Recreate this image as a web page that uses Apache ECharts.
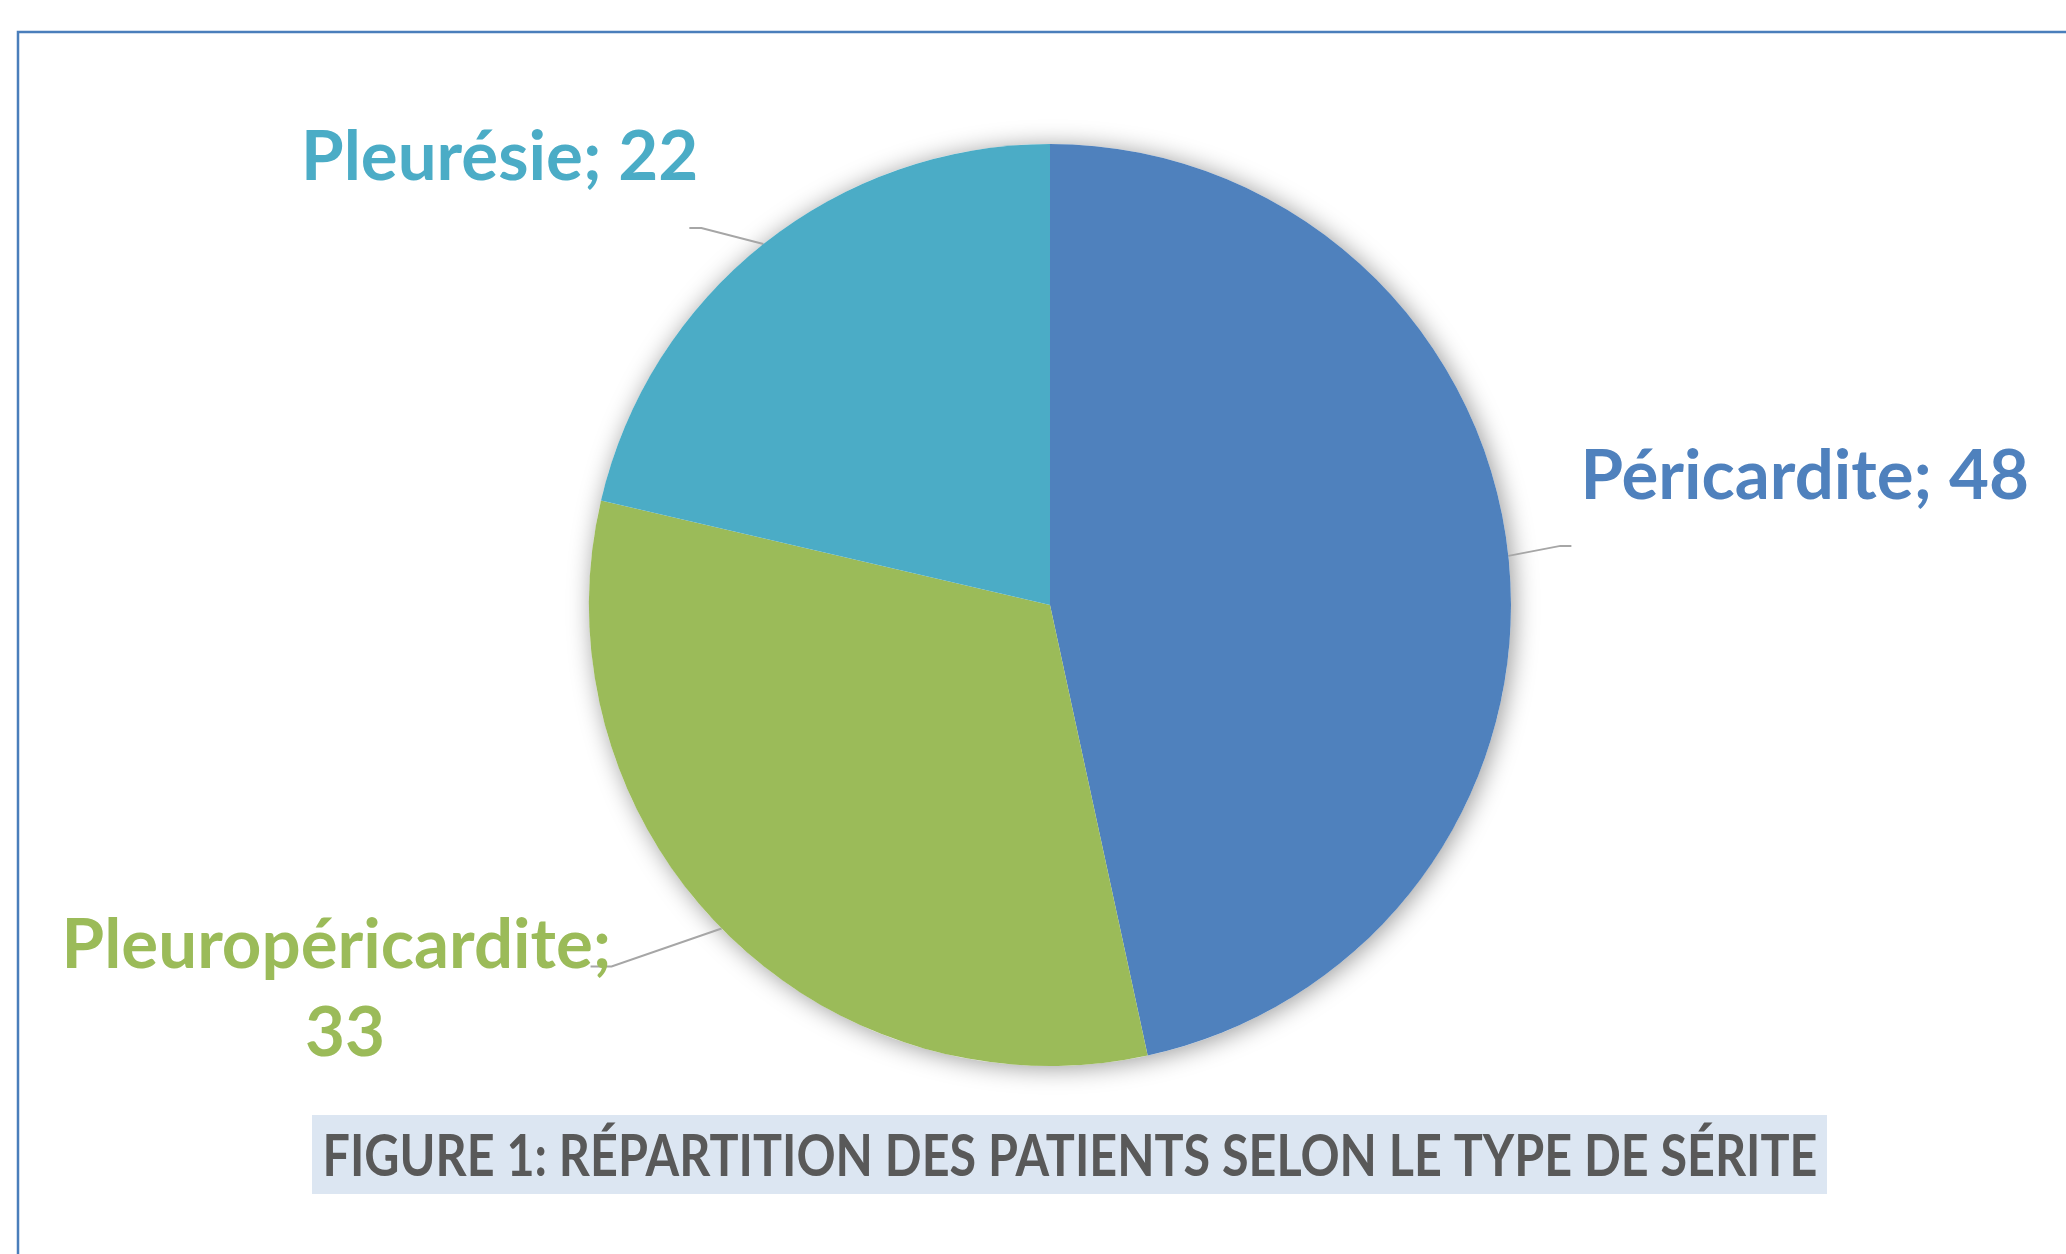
<!DOCTYPE html>
<html>
<head>
<meta charset="utf-8">
<script src="https://cdn.jsdelivr.net/npm/echarts@6/dist/echarts.min.js"></script>
<style>
  html, body { margin: 0; padding: 0; background: #fff; }
  #chart { width: 2066px; height: 1254px; }
</style>
</head>
<body>
<div id="chart"></div>
<script>
// données du graphique
const categories = ['Péricardite', 'Pleuropéricardite', 'Pleurésie'];
const values = [48, 33, 22];
const colors = ['#4F81BD', '#9BBB59', '#4BACC6'];
const caption = 'FIGURE 1: RÉPARTITION DES PATIENTS SELON LE TYPE DE SÉRITE';

// réglages des étiquettes : segment de ligne, palier horizontal, décalage du texte
const lineBend = [[52, -10], [-110, 38], [-62, -16]];
const lineTail = [11, -21, -12];
const labelShift = [[9, -69, 'left'], [-254, 23, 'center'], [9, -70, 'right']];

const FONT = 'Lato, "Open Sans", sans-serif';

// largeur mesurée pour caler la légende en bas
function textWidth (txt, font) {
  const ctx = document.createElement('canvas').getContext('2d');
  ctx.font = font;
  return ctx.measureText(txt).width;
}
const capFont = 'bold 58px ' + FONT;
const capScale = 1495 / textWidth(caption, capFont);

const myechart = echarts.init(document.getElementById('chart'));

const data = categories.map((name, i) => ({
  name: name,
  value: values[i],
  itemStyle: { color: colors[i] },
  label: { color: colors[i] }
}));
const total = values.reduce((a, b) => a + b, 0);

const option = {
  animation: false,
  graphic: [
    {
      type: 'rect',
      shape: { x: 18, y: 32, width: 2200, height: 1400 },
      style: { fill: 'none', stroke: '#4A7EBB', lineWidth: 2.5 },
      silent: true
    },
    {
      type: 'rect',
      shape: { x: 312, y: 1115, width: 1515, height: 79 },
      style: { fill: '#DCE6F2' },
      silent: true
    },
    {
      type: 'text',
      x: 1070,
      y: 1157,
      scaleX: capScale,
      style: {
        text: caption,
        font: capFont,
        fill: '#595959',
        textAlign: 'center',
        textVerticalAlign: 'middle'
      },
      silent: true
    }
  ],
  series: [
    {
      // ombre du disque, sous le camembert
      type: 'pie',
      center: [1050, 605],
      radius: 461,
      silent: true,
      label: { show: false },
      labelLine: { show: false },
      itemStyle: {
        color: '#fff',
        shadowBlur: 24,
        shadowColor: 'rgba(0,0,0,0.4)',
        shadowOffsetX: 3,
        shadowOffsetY: 2
      },
      data: [{ value: total, name: '' }],
      z: 1
    },
    {
      type: 'pie',
      center: [1050, 605],
      radius: 461,
      startAngle: 90,
      clockwise: true,
      z: 2,
      itemStyle: { borderWidth: 0 },
      label: {
        show: true,
        position: 'outside',
        formatter: '{b}; {c}',
        fontFamily: FONT,
        fontWeight: 'bold',
        fontSize: 69,
        width: 600,
        overflow: 'break',
        lineHeight: 88
      },
      labelLine: {
        show: true,
        length: 40,
        length2: 10,
        smooth: false,
        lineStyle: { color: '#A6A6A6', width: 2 }
      },
      labelLayout: function (p) {
        const i = p.dataIndex;
        const p0 = p.labelLinePoints[0];
        const p1 = [p0[0] + lineBend[i][0], p0[1] + lineBend[i][1]];
        const p2 = [p1[0] + lineTail[i], p1[1]];
        return {
          x: p2[0] + labelShift[i][0],
          y: p2[1] + labelShift[i][1],
          align: labelShift[i][2],
          verticalAlign: 'middle',
          labelLinePoints: [p0, p1, p2]
        };
      },
      emphasis: { disabled: true },
      data: data
    }
  ]
};
myechart.setOption(option);
window.onresize = () => { myechart.resize() };
</script>
</body>
</html>
